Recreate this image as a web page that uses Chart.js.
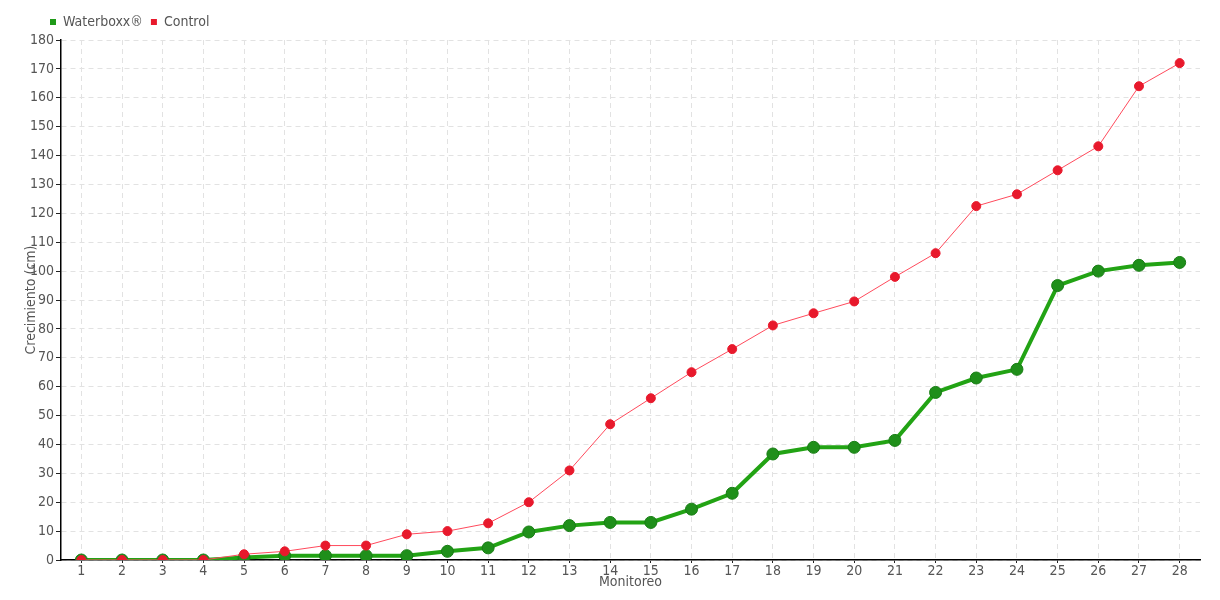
<!DOCTYPE html>
<html>
<head>
<meta charset="utf-8">
<script src="https://cdn.jsdelivr.net/npm/chart.js@4/dist/chart.umd.min.js"></script>
<style>
  html, body { margin: 0; padding: 0; background: #fff; }
  #wrap { width: 1220px; height: 600px; }
</style>
</head>
<body>
<div id="wrap"><canvas id="chart"></canvas></div>
<script>
const monitoreo = ['1','2','3','4','5','6','7','8','9','10','11','12','13','14','15','16','17','18','19','20','21','22','23','24','25','26','27','28'];
const waterboxx = [0, 0, 0, 0, 0.9, 1.5, 1.5, 1.5, 1.5, 3, 4.2, 9.7, 11.9, 13, 13, 17.6, 23.1, 36.7, 39, 39, 41.4, 58, 63, 66, 95, 100, 102, 103];
const control = [0, 0, 0, 0, 2, 3, 5, 5, 8.9, 10, 12.7, 20, 31, 47, 56, 65, 73, 81.2, 85.4, 89.5, 98, 106.2, 122.5, 126.6, 134.9, 143.2, 164, 172];
const yMax = 180;

const FONT = "'Liberation Sans Narrow', 'DejaVu Sans Condensed', sans-serif";
const TEXT = '#555';

// keep legend in a 40px band and nudge it right like the original
const legendBand = {
  id: 'legendBand',
  afterInit(chart) {
    const lg = chart.legend;
    const fit = lg.fit.bind(lg);
    lg.fit = function () { fit(); this.height = 40; };
  },
  beforeDraw(chart) {
    chart.legend.left = 42;
    chart.legend.top = 7;
  }
};

const defaultLabels = Chart.defaults.plugins.legend.labels.generateLabels;

new Chart(document.getElementById('chart'), {
  type: 'line',
  data: {
    labels: monitoreo,
    datasets: [
      {
        label: 'Waterboxx®',
        data: waterboxx,
        order: 2,
        borderColor: '#22a314',
        backgroundColor: '#1f9a18',
        borderWidth: 4,
        pointRadius: 6,
        pointBackgroundColor: '#1f8f1a',
        pointBorderColor: '#187d14',
        pointBorderWidth: 1,
        tension: 0
      },
      {
        label: 'Control',
        data: control,
        order: 1,
        borderColor: '#ff4a5c',
        backgroundColor: '#e8192c',
        borderWidth: 1,
        pointRadius: 4.5,
        pointBackgroundColor: '#e8192c',
        pointBorderColor: '#e8192c',
        pointBorderWidth: 1,
        tension: 0
      }
    ]
  },
  options: {
    responsive: true,
    maintainAspectRatio: false,
    animation: false,
    layout: { padding: { left: 0, right: 20, top: 0, bottom: 0 } },
    plugins: {
      legend: {
        position: 'top',
        align: 'start',
        labels: {
          boxWidth: 6,
          boxHeight: 6,
          padding: 8,
          color: TEXT,
          font: { family: FONT, size: 14 },
          sort: (a, b) => a.datasetIndex - b.datasetIndex,
          generateLabels(chart) {
            return defaultLabels(chart).map(l => Object.assign(l, { lineWidth: 0, strokeStyle: l.fillStyle }));
          }
        }
      },
      tooltip: { enabled: false }
    },
    scales: {
      x: {
        offset: true,
        grid: {
          offset: false,
          color: '#e2e2e2',
          tickColor: '#222',
          tickBorderDash: [],
          tickLength: 3,
          drawTicks: true
        },
        border: { color: '#000', width: 1.5, dash: [5, 4] },
        ticks: { color: TEXT, font: { family: FONT, size: 14 }, padding: 0, maxRotation: 0, autoSkip: false },
        title: { display: true, text: 'Monitoreo', color: TEXT, font: { family: FONT, size: 14 }, padding: { top: 0, bottom: 9 } },
        afterFit(scale) { scale.height = 40; }
      },
      y: {
        min: 0,
        max: yMax,
        grid: {
          color: '#e2e2e2',
          tickColor: '#222',
          tickBorderDash: [],
          tickLength: 5
        },
        border: { color: '#000', width: 1.5, dash: [5, 4] },
        ticks: { stepSize: 10, color: TEXT, font: { family: FONT, size: 14 }, padding: 2 },
        title: { display: true, text: 'Crecimiento (cm)', color: TEXT, font: { family: FONT, size: 14 }, padding: { top: 23, bottom: 0 } },
        afterFit(scale) { scale.width = 61; }
      }
    }
  },
  plugins: [legendBand]
});
</script>
</body>
</html>
